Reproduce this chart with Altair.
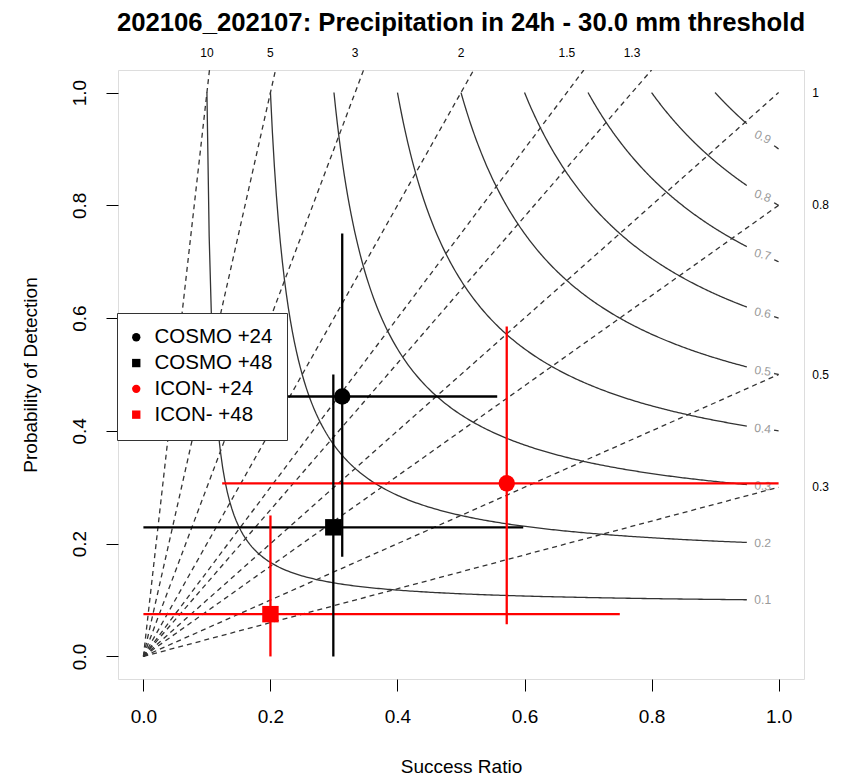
import altair as alt
import numpy as np
import pandas as pd

TITLE = "202106_202107: Precipitation in 24h - 30.0 mm threshold"

# ---- data ----
series = ["COSMO +24", "COSMO +48", "ICON- +24", "ICON- +48"]
series_colors = ["#000000", "#000000", "#FF0000", "#FF0000"]
series_shapes = ["circle", "square", "circle", "square"]
success_ratio = [0.313, 0.299, 0.572, 0.200]
pod = [0.461, 0.229, 0.307, 0.075]
sr_low = [0.07, 0.0, 0.124, 0.0]
sr_high = [0.557, 0.598, 1.0, 0.75]
pod_low = [0.177, 0.0, 0.057, 0.0]
pod_high = [0.75, 0.50, 0.585, 0.25]

bias_values = [0.3, 0.5, 0.8, 1.0, 1.3, 1.5, 2.0, 3.0, 5.0, 10.0]
bias_labels = ["0.3", "0.5", "0.8", "1", "1.3", "1.5", "2", "3", "5", "10"]
csi_values = [0.1, 0.2, 0.3, 0.4, 0.5, 0.6, 0.7, 0.8, 0.9]
csi_labels = ["0.1", "0.2", "0.3", "0.4", "0.5", "0.6", "0.7", "0.8", "0.9"]
csi_label_angles = [0, 1, 3, 5, 8, 11, 15, 20, 26]

# ---- layout ----
LO, HI = -0.04, 1.04
W, H = 686, 609
FONT = "Liberation Sans"

xsc = alt.Scale(domain=[LO, HI], nice=False, zero=False)
ysc = alt.Scale(domain=[LO, HI], nice=False, zero=False)

# bias lines: y = b * x for x in [0, 1], clipped at the top of the panel
bias_rows = []
for b, lab in zip(bias_values, bias_labels):
    bias_rows.append({"bias": lab, "sr": 0.0, "pod": 0.0})
    bias_rows.append({"bias": lab, "sr": min(1.0, HI / b), "pod": min(b, HI)})
bias_df = pd.DataFrame(bias_rows)

top_lab_df = pd.DataFrame(
    [{"lab": l, "sr": 1.0 / b, "pod": 1.071} for b, l in zip(bias_values, bias_labels) if b > 1]
)
right_lab_df = pd.DataFrame(
    [{"lab": l, "sr": 1.053, "pod": b} for b, l in zip(bias_values, bias_labels) if b <= 1]
)

# CSI isolines: CSI = 1 / (1/SR + 1/POD - 1)
csi_rows = []
for c, lab in zip(csi_values, csi_labels):
    for s in np.linspace(c, 0.95, 240):
        csi_rows.append({"seg": lab + "a", "sr": s, "pod": 1.0 / (1.0 / c + 1.0 - 1.0 / s)})
    if c >= 0.4:
        for s in np.linspace(0.993, 1.0, 4):
            csi_rows.append({"seg": lab + "b", "sr": s, "pod": 1.0 / (1.0 / c + 1.0 - 1.0 / s)})
csi_df = pd.DataFrame(csi_rows)

lab_sr = 0.975
csi_lab_df = pd.DataFrame(
    [
        {"lab": l, "sr": lab_sr, "pod": 1.0 / (1.0 / c + 1.0 - 1.0 / lab_sr), "ang": a}
        for c, l, a in zip(csi_values, csi_labels, csi_label_angles)
    ]
)

pts_df = pd.DataFrame(
    {
        "series": series,
        "col": series_colors,
        "sr": success_ratio,
        "pod": pod,
        "sr_lo": sr_low,
        "sr_hi": sr_high,
        "pod_lo": pod_low,
        "pod_hi": pod_high,
    }
)

X = alt.X(
    "sr:Q",
    scale=xsc,
    axis=alt.Axis(
        values=[0, 0.2, 0.4, 0.6, 0.8, 1.0],
        format=".1f",
        title="Success Ratio",
        domain=False,
        grid=False,
        tickSize=12,
        tickColor="#000",
        labelFontSize=19,
        labelPadding=16,
        labelFont=FONT,
        labelColor="#000",
        titleFont=FONT,
        titleFontSize=19,
        titleFontWeight="normal",
        titleColor="#000",
        titlePadding=31,
    ),
)
Y = alt.Y(
    "pod:Q",
    scale=ysc,
    axis=alt.Axis(
        values=[0, 0.2, 0.4, 0.6, 0.8, 1.0],
        format=".1f",
        title="Probability of Detection",
        domain=False,
        grid=False,
        tickSize=12,
        tickColor="#000",
        labelAngle=270,
        labelAlign="center",
        labelBaseline="bottom",
        labelFontSize=19,
        labelPadding=17,
        labelFont=FONT,
        labelColor="#000",
        titleFont=FONT,
        titleFontSize=19,
        titleFontWeight="normal",
        titleColor="#000",
        titlePadding=30,
    ),
)

bias_layer = alt.Chart(bias_df).mark_line(
    color="#333", strokeWidth=1.3, strokeDash=[5, 4], clip=True
).encode(x=X, y=Y, detail="bias:N")

csi_layer = alt.Chart(csi_df).mark_line(color="#333", strokeWidth=1.3, clip=True).encode(
    x=alt.X("sr:Q", scale=xsc), y=alt.Y("pod:Q", scale=ysc), detail="seg:N"
)

csi_text = alt.Chart(csi_lab_df).mark_text(
    color="#9a9a9a", fontSize=12, font=FONT, align="center", baseline="middle"
).encode(
    x=alt.X("sr:Q", scale=xsc),
    y=alt.Y("pod:Q", scale=ysc),
    text="lab:N",
    angle=alt.Angle("ang:Q", scale=None),
)

top_text = alt.Chart(top_lab_df).mark_text(
    color="#000", fontSize=12, font=FONT, align="center", baseline="middle"
).encode(x=alt.X("sr:Q", scale=xsc), y=alt.Y("pod:Q", scale=ysc), text="lab:N")

right_text = alt.Chart(right_lab_df).mark_text(
    color="#000", fontSize=12, font=FONT, align="left", baseline="middle"
).encode(x=alt.X("sr:Q", scale=xsc), y=alt.Y("pod:Q", scale=ysc), text="lab:N")

hbars = alt.Chart(pts_df).mark_rule(strokeWidth=2.3).encode(
    x=alt.X("sr_lo:Q", scale=xsc),
    x2="sr_hi:Q",
    y=alt.Y("pod:Q", scale=ysc),
    color=alt.Color("col:N", scale=None),
)
vbars = alt.Chart(pts_df).mark_rule(strokeWidth=2.3).encode(
    x=alt.X("sr:Q", scale=xsc),
    y=alt.Y("pod_lo:Q", scale=ysc),
    y2="pod_hi:Q",
    color=alt.Color("col:N", scale=None),
)

legend_spec = dict(
    title=None,
    orient="none",
    legendX=-1,
    legendY=243,
    fillColor="#fff",
    strokeColor="#333",
    padding=14,
    labelFontSize=20.5,
    labelFont=FONT,
    labelColor="#000",
    labelOffset=8,
    symbolOffset=-5,
    symbolSize=70,
    rowPadding=4.8,
    symbolStrokeWidth=0,
    cornerRadius=0,
)

points = alt.Chart(pts_df).mark_point(filled=True, opacity=1, size=270).encode(
    x=alt.X("sr:Q", scale=xsc),
    y=alt.Y("pod:Q", scale=ysc),
    color=alt.Color(
        "series:N",
        scale=alt.Scale(domain=series, range=series_colors),
        legend=alt.Legend(**legend_spec),
    ),
    shape=alt.Shape(
        "series:N",
        scale=alt.Scale(domain=series, range=series_shapes),
        legend=alt.Legend(**legend_spec),
    ),
)

chart = (
    alt.layer(bias_layer, csi_layer, csi_text, top_text, right_text, hbars, vbars, points)
    .properties(
        width=W,
        height=H,
        autosize=alt.AutoSizeParams(type="none"),
        padding={"left": 118, "top": 70, "right": 39, "bottom": 103},
        title=alt.TitleParams(
            TITLE,
            font=FONT,
            fontSize=25.7,
            fontWeight="bold",
            color="#000",
            anchor="middle",
            offset=10,
        ),
    )
    .configure_view(stroke="#555", strokeWidth=1.5)
    .configure(background="#fff")
)

chart.save("out.html", embed_options={"renderer": "svg", "actions": False})
